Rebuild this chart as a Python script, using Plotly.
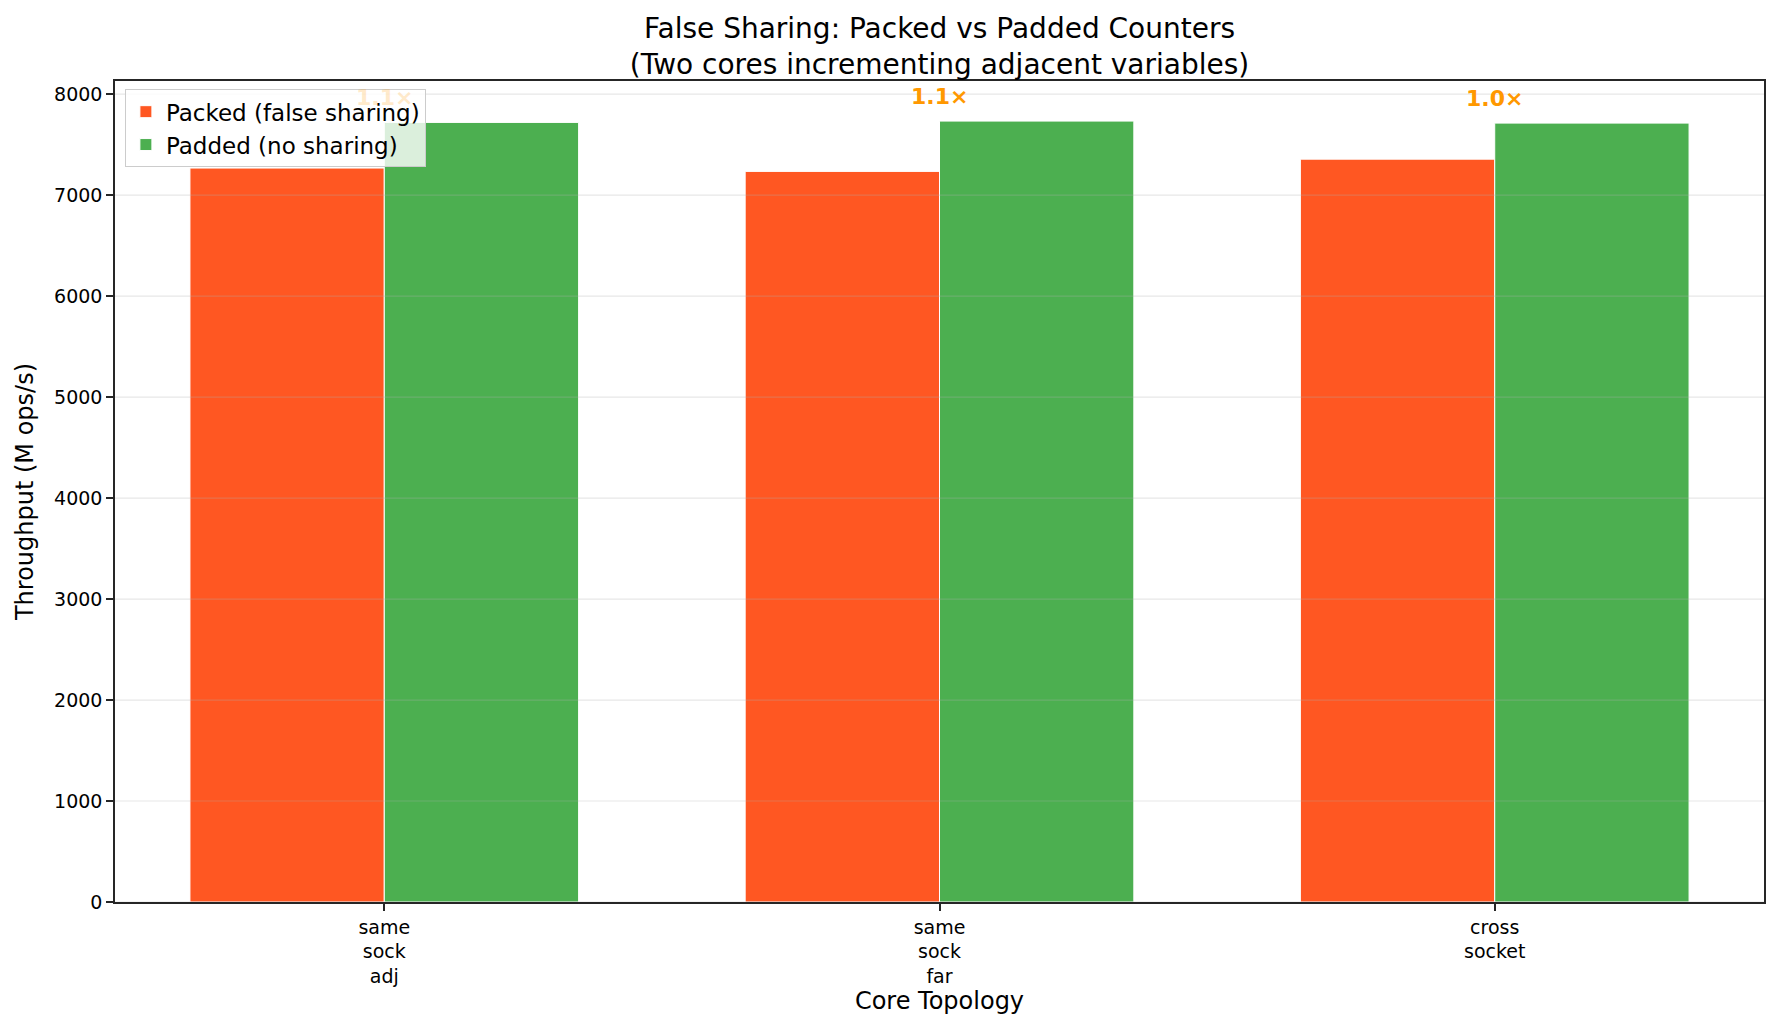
import plotly.graph_objects as go

categories = ["same<br>sock<br>adj", "same<br>sock<br>far", "cross<br>socket"]
packed = [7268, 7235, 7356]
padded = [7720, 7733, 7713]
y_ticks = [0, 1000, 2000, 3000, 4000, 5000, 6000, 7000, 8000]

font_family = "DejaVu Sans"

fig = go.Figure()
fig.add_trace(go.Bar(
    x=categories, y=packed, name="Packed (false sharing)",
    marker=dict(color="#FF5722", line=dict(color="white", width=1)),
))
fig.add_trace(go.Bar(
    x=categories, y=padded, name="Padded (no sharing)",
    marker=dict(color="#4CAF50", line=dict(color="white", width=1)),
))

# speedup labels above each group (the first one sits under the legend box)
for i, (cat, a, b) in enumerate(zip(categories, packed, padded)):
    fig.add_annotation(
        x=cat, y=max(a, b) + 100, text=f"<b>{b / a:.1f}×</b>",
        showarrow=False, yanchor="bottom", xanchor="center",
        font=dict(size=22, color="#FF9800", family=font_family),
        opacity=0.2 if i == 0 else 1,
    )

# grid drawn over bars like the original
for t in y_ticks:
    fig.add_shape(
        type="line", xref="paper", x0=0, x1=1, yref="y", y0=t, y1=t,
        line=dict(color="rgba(176,176,176,0.3)", width=1.2), layer="above",
    )

fig.update_layout(
    width=1764, height=1014,
    barmode="group", bargap=0.3, bargroupgap=0,
    plot_bgcolor="white", paper_bgcolor="white",
    font=dict(family=font_family, size=19, color="black"),
    margin=dict(l=107, r=6, t=73, b=120),
    title=dict(
        text="False Sharing: Packed vs Padded Counters<br>(Two cores incrementing adjacent variables)",
        x=0.5, xanchor="center", xref="paper",
        y=1, yanchor="bottom", yref="paper", pad=dict(b=43),
        font=dict(size=28, family=font_family, color="black"),
    ),
    legend=dict(
        x=0.006, y=0.99, xanchor="left", yanchor="top",
        bgcolor="rgba(255,255,255,0.8)", bordercolor="#cccccc", borderwidth=1,
        font=dict(size=23, family=font_family),
        traceorder="normal",
    ),
    showlegend=True,
)

fig.update_xaxes(
    range=[-0.485, 2.485],
    showline=True, linecolor="#262626", linewidth=1.5, mirror=True,
    ticks="outside", ticklen=7, tickwidth=1.5, tickcolor="#262626",
    showgrid=False,
    title=dict(text="Core Topology", font=dict(size=24, family=font_family), standoff=6),
)
fig.update_yaxes(
    range=[0, 8130], tickvals=y_ticks,
    showline=True, linecolor="#262626", linewidth=1.5, mirror=True,
    ticks="outside", ticklen=7, tickwidth=1.5, tickcolor="#262626",
    showgrid=False, zeroline=False,
    title=dict(text="Throughput (M ops/s)", font=dict(size=24, family=font_family), standoff=14),
)

fig.write_html("out.html")
